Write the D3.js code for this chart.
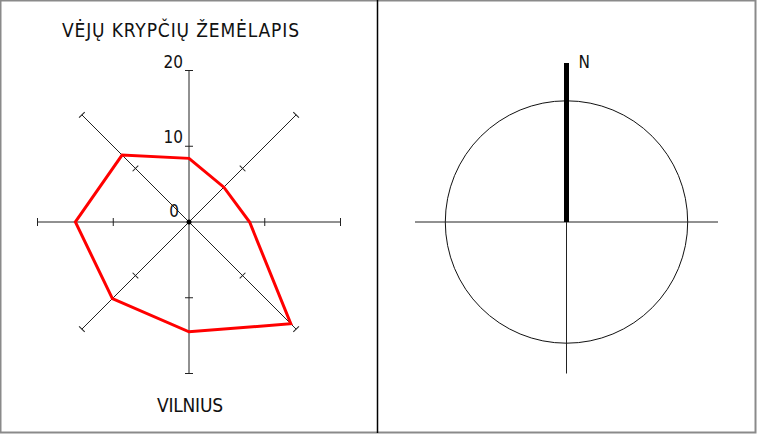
<!DOCTYPE html>
<html>
<head>
<meta charset="utf-8">
<script src="https://cdn.jsdelivr.net/npm/d3@7"></script>
<style>
  body { margin: 0; background: #fff; }
  text { font-family: "DejaVu Sans", sans-serif; font-stretch: condensed; fill: #111; }
</style>
</head>
<body>
<svg id="viz" width="764" height="437"></svg>
<script>
// wind rose data (Vilnius), clockwise from north
var directions = ["N", "NE", "E", "SE", "S", "SW", "W", "NW"];
var windValues = [8.4, 6.5, 8.0, 19.0, 14.5, 14.3, 15.0, 12.5];
var tickValues = [10, 20];
var tickLabels = ["0", "10", "20"];
var titleText = "VĖJŲ KRYPČIŲ ŽEMĖLAPIS";
var cityText = "VILNIUS";

var svg = d3.select("#viz");
var r = d3.scaleLinear().domain([0, 20]).range([0, 151.5]);
var angle = d3.scaleOrdinal().domain(directions).range(d3.range(8).map(function (i) { return i * Math.PI / 4; }));

function px(a, v) { return Math.sin(a) * r(v); }
function py(a, v) { return -Math.cos(a) * r(v); }

// frames
svg.append("rect").attr("x", 0.5).attr("y", 0.5).attr("width", 755).attr("height", 432)
    .attr("fill", "none").attr("stroke", "#8a8a8a").attr("stroke-width", 2);
svg.append("line").attr("x1", 377.5).attr("x2", 377.5).attr("y1", 0).attr("y2", 433)
    .attr("stroke", "#000").attr("stroke-width", 1.5);

// ---- left panel: wind rose ----
var rose = svg.append("g").attr("transform", "translate(189,222)");

svg.append("text").attr("x", 62).attr("y", 36.5)
    .attr("textLength", 237).attr("lengthAdjust", "spacing")
    .style("font-size", "19px").text(titleText);

// axes: four full lines through the centre
var axisLines = directions.slice(0, 4);
rose.selectAll("line.axis")
    .data(axisLines)
    .enter()
    .append("line")
    .attr("class", "axis")
    .attr("x1", function (d) { return px(angle(d), 20); })
    .attr("y1", function (d) { return py(angle(d), 20); })
    .attr("x2", function (d) { return -px(angle(d), 20); })
    .attr("y2", function (d) { return -py(angle(d), 20); })
    .attr("stroke", "#222")
    .attr("stroke-width", 1);

// perpendicular ticks on each of the eight half-axes
var tickData = [];
directions.forEach(function (d) {
    tickValues.forEach(function (v) { tickData.push({ dir: d, v: v }); });
});
rose.selectAll("line.tick")
    .data(tickData)
    .enter()
    .append("line")
    .attr("class", "tick")
    .attr("transform", function (d) {
        var a = angle(d.dir);
        return "translate(" + px(a, d.v) + "," + py(a, d.v) + ") rotate(" + (a * 180 / Math.PI) + ")";
    })
    .attr("x1", -4).attr("x2", 4).attr("y1", 0).attr("y2", 0)
    .attr("stroke", "#222")
    .attr("stroke-width", 1);

// tick labels on the north axis
rose.selectAll("text.lbl")
    .data([0].concat(tickValues))
    .enter()
    .append("text")
    .attr("class", "lbl")
    .attr("x", function (d, i) { return i == 0 ? -10 : -6; })
    .attr("y", function (d, i) { return -r(d) - (i == 0 ? 5 : 3); })
    .attr("text-anchor", "end")
    .style("font-size", "17px")
    .text(function (d, i) { return tickLabels[i]; });

// wind polygon
var line = d3.lineRadial()
    .angle(function (d, i) { return angle(directions[i]); })
    .radius(function (d) { return r(d); })
    .curve(d3.curveLinearClosed);

rose.append("path")
    .datum(windValues)
    .attr("d", line)
    .attr("fill", "none")
    .attr("stroke", "#ff0000")
    .attr("stroke-width", 3)
    .attr("stroke-linejoin", "miter");

rose.append("circle").attr("r", 2.5).attr("fill", "#000");

svg.append("text").attr("x", 157).attr("y", 411.5)
    .attr("textLength", 66).attr("lengthAdjust", "spacing")
    .style("font-size", "19px").text(cityText);

// ---- right panel: compass ----
var compass = svg.append("g").attr("transform", "translate(566.5,222)");

compass.append("circle").attr("r", r(16)).attr("fill", "none").attr("stroke", "#111").attr("stroke-width", 1);
compass.append("line").attr("x1", -r(20)).attr("x2", r(20)).attr("y1", 0).attr("y2", 0)
    .attr("stroke", "#222").attr("stroke-width", 1);
compass.append("line").attr("x1", 0).attr("x2", 0).attr("y1", 0).attr("y2", r(20))
    .attr("stroke", "#222").attr("stroke-width", 1);
compass.append("line").attr("x1", 0).attr("x2", 0).attr("y1", 0).attr("y2", -r(21))
    .attr("stroke", "#000").attr("stroke-width", 5);
compass.append("text").attr("x", 12).attr("y", -154)
    .style("font-size", "17px").text("N");
</script>
</body>
</html>
